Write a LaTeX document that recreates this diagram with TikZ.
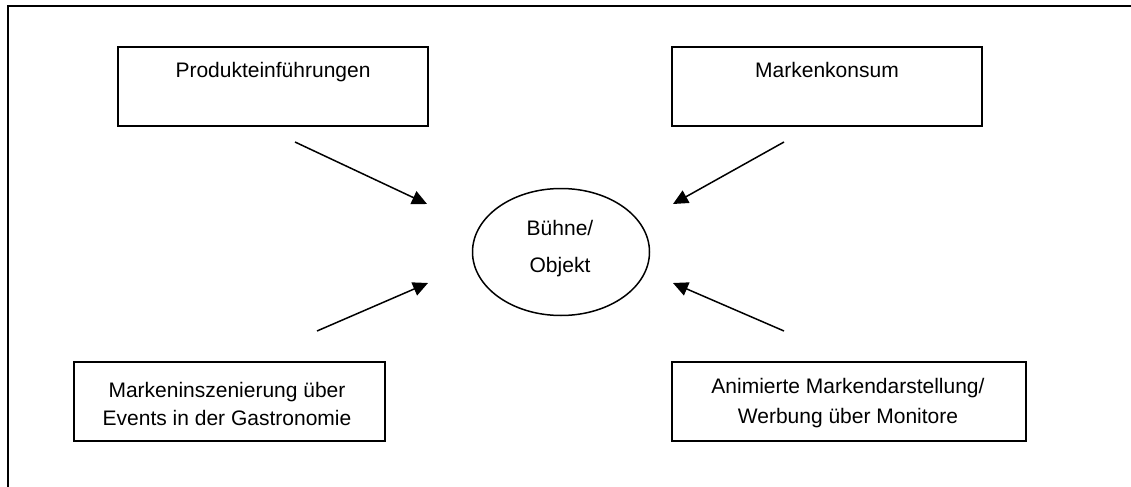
\documentclass[tikz,border=0pt]{standalone}
\usepackage{fontspec}
\setmainfont{Liberation Sans}
\usetikzlibrary{arrows.meta,shapes.geometric}
\begin{document}
\begin{tikzpicture}[x=0.5pt,y=-0.5pt,
  box/.style={draw, line width=0.75pt, rectangle, inner sep=0pt, minimum height=39.5pt},
  oval/.style={draw, line width=0.75pt, ellipse, inner sep=0pt, minimum width=88.5pt, minimum height=63.5pt},
  txt/.style={anchor=base, inner sep=0pt, font=\fontsize{10.5}{14}\selectfont},
  arr/.style={line width=0.75pt, -{Triangle[length=7.5pt,width=7pt]}}]
\useasboundingbox (0,0) rectangle (1131,487);
\draw[line width=0.75pt] (8,487) -- (8,6) -- (1131,6);

% boxes
\node[box, minimum width=155pt] (prod) at (273,86.5) {};
\node[box, minimum width=155pt] (konsum) at (827,86.5) {};
\node[box, minimum width=155.5pt] (events) at (229.5,401.5) {};
\node[box, minimum width=177pt] (monitor) at (849,401.5) {};
\node[oval] (buehne) at (561,252) {};

% texts
\node[txt] (prodT) at (273,77) {Produkteinführungen};
\node[txt] (konsumT) at (827,77) {Markenkonsum};
\node[txt] (eventsT1) at (227,397) {Markeninszenierung über};
\node[txt] (eventsT2) at (227,425) {Events in der Gastronomie};
\node[txt] (monitorT1) at (848,393) {Animierte Markendarstellung/};
\node[txt] (monitorT2) at (848,423) {Werbung über Monitore};
\node[txt] (buehneT1) at (560,235) {Bühne/};
\node[txt] (buehneT2) at (560,272) {Objekt};

% arrow end points
\coordinate (a1s) at (295,142);
\coordinate (a1e) at (427,204);
\coordinate (a2s) at (784,142);
\coordinate (a2e) at (673,204);
\coordinate (a3s) at (317,331);
\coordinate (a3e) at (428,283);
\coordinate (a4s) at (784,331);
\coordinate (a4e) at (673,283);

\draw[arr] (a1s) -- (a1e);
\draw[arr] (a2s) -- (a2e);
\draw[arr] (a3s) -- (a3e);
\draw[arr] (a4s) -- (a4e);
\end{tikzpicture}
\end{document}
